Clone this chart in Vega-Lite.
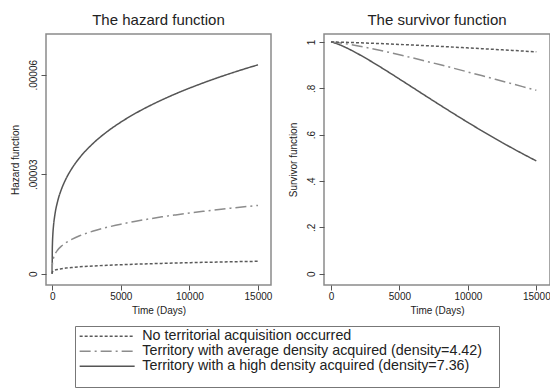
{
  "$schema": "https://vega.github.io/schema/vega-lite/v6.json",
  "padding": {"left": 9, "top": 12, "right": 0, "bottom": 0},
  "config": {
    "font": "Liberation Sans",
    "view": {"stroke": "#8a8a8a", "strokeWidth": 1.5},
    "axis": {"domain": false, "grid": false, "tickColor": "#555", "tickSize": 5, "tickWidth": 1, "labelFontSize": 10, "titleFontSize": 10, "labelColor": "#222", "titleColor": "#222", "titleFontWeight": "normal"},
    "title": {"fontSize": 15, "fontWeight": "normal", "color": "#222", "frame": "group", "offset": 6},
    "concat": {"spacing": 14}
  },
  "datasets": {
    "haz": [
      {"t":0,"g":"high","v":0},{"t":10,"g":"high","v":0.745e-5},{"t":20,"g":"high","v":0.912e-5},{"t":50,"g":"high","v":1.191e-5},{"t":100,"g":"high","v":1.458e-5},{"t":200,"g":"high","v":1.786e-5},{"t":400,"g":"high","v":2.187e-5},{"t":700,"g":"high","v":2.574e-5},{"t":1000,"g":"high","v":2.857e-5},{"t":1500,"g":"high","v":3.216e-5},{"t":2000,"g":"high","v":3.498e-5},{"t":3000,"g":"high","v":3.938e-5},{"t":4000,"g":"high","v":4.283e-5},{"t":5000,"g":"high","v":4.571e-5},{"t":6000,"g":"high","v":4.821e-5},{"t":7000,"g":"high","v":5.043e-5},{"t":8000,"g":"high","v":5.243e-5},{"t":9000,"g":"high","v":5.427e-5},{"t":10000,"g":"high","v":5.596e-5},{"t":11000,"g":"high","v":5.754e-5},{"t":12000,"g":"high","v":5.902e-5},{"t":13000,"g":"high","v":6.042e-5},{"t":14000,"g":"high","v":6.175e-5},{"t":15000,"g":"high","v":6.300e-5},
      {"t":0,"g":"average","v":0},{"t":10,"g":"average","v":0.243e-5},{"t":20,"g":"average","v":0.298e-5},{"t":50,"g":"average","v":0.389e-5},{"t":100,"g":"average","v":0.477e-5},{"t":200,"g":"average","v":0.584e-5},{"t":400,"g":"average","v":0.715e-5},{"t":700,"g":"average","v":0.842e-5},{"t":1000,"g":"average","v":0.934e-5},{"t":1500,"g":"average","v":1.052e-5},{"t":2000,"g":"average","v":1.144e-5},{"t":3000,"g":"average","v":1.288e-5},{"t":4000,"g":"average","v":1.400e-5},{"t":5000,"g":"average","v":1.495e-5},{"t":6000,"g":"average","v":1.576e-5},{"t":7000,"g":"average","v":1.649e-5},{"t":8000,"g":"average","v":1.715e-5},{"t":9000,"g":"average","v":1.774e-5},{"t":10000,"g":"average","v":1.830e-5},{"t":11000,"g":"average","v":1.882e-5},{"t":12000,"g":"average","v":1.930e-5},{"t":13000,"g":"average","v":1.976e-5},{"t":14000,"g":"average","v":2.019e-5},{"t":15000,"g":"average","v":2.060e-5},
      {"t":0,"g":"none","v":0},{"t":10,"g":"none","v":0.044e-5},{"t":20,"g":"none","v":0.054e-5},{"t":50,"g":"none","v":0.071e-5},{"t":100,"g":"none","v":0.087e-5},{"t":200,"g":"none","v":0.106e-5},{"t":400,"g":"none","v":0.130e-5},{"t":700,"g":"none","v":0.153e-5},{"t":1000,"g":"none","v":0.170e-5},{"t":1500,"g":"none","v":0.191e-5},{"t":2000,"g":"none","v":0.208e-5},{"t":3000,"g":"none","v":0.234e-5},{"t":4000,"g":"none","v":0.255e-5},{"t":5000,"g":"none","v":0.272e-5},{"t":6000,"g":"none","v":0.287e-5},{"t":7000,"g":"none","v":0.300e-5},{"t":8000,"g":"none","v":0.312e-5},{"t":9000,"g":"none","v":0.323e-5},{"t":10000,"g":"none","v":0.333e-5},{"t":11000,"g":"none","v":0.343e-5},{"t":12000,"g":"none","v":0.351e-5},{"t":13000,"g":"none","v":0.360e-5},{"t":14000,"g":"none","v":0.368e-5},{"t":15000,"g":"none","v":0.375e-5}
    ],
    "surv": [
      {"t":0,"g":"high","v":1},{"t":20,"g":"high","v":0.99986},{"t":50,"g":"high","v":0.99955},{"t":100,"g":"high","v":0.99889},{"t":200,"g":"high","v":0.99728},{"t":400,"g":"high","v":0.99335},{"t":700,"g":"high","v":0.98636},{"t":1000,"g":"high","v":0.97846},{"t":1500,"g":"high","v":0.96391},{"t":2000,"g":"high","v":0.94809},{"t":3000,"g":"high","v":0.91393},{"t":4000,"g":"high","v":0.87762},{"t":5000,"g":"high","v":0.84015},{"t":6000,"g":"high","v":0.80221},{"t":7000,"g":"high","v":0.76415},{"t":8000,"g":"high","v":0.72644},{"t":9000,"g":"high","v":0.68929},{"t":10000,"g":"high","v":0.65288},{"t":11000,"g":"high","v":0.61740},{"t":12000,"g":"high","v":0.58297},{"t":13000,"g":"high","v":0.54967},{"t":14000,"g":"high","v":0.51759},{"t":15000,"g":"high","v":0.48675},
      {"t":0,"g":"average","v":1},{"t":20,"g":"average","v":0.99995},{"t":50,"g":"average","v":0.99985},{"t":100,"g":"average","v":0.99964},{"t":200,"g":"average","v":0.99912},{"t":400,"g":"average","v":0.99784},{"t":700,"g":"average","v":0.99555},{"t":1000,"g":"average","v":0.99295},{"t":1500,"g":"average","v":0.98813},{"t":2000,"g":"average","v":0.98282},{"t":3000,"g":"average","v":0.97117},{"t":4000,"g":"average","v":0.95847},{"t":5000,"g":"average","v":0.94497},{"t":6000,"g":"average","v":0.93088},{"t":7000,"g":"average","v":0.91629},{"t":8000,"g":"average","v":0.90134},{"t":9000,"g":"average","v":0.88610},{"t":10000,"g":"average","v":0.87060},{"t":11000,"g":"average","v":0.85494},{"t":12000,"g":"average","v":0.83914},{"t":13000,"g":"average","v":0.82325},{"t":14000,"g":"average","v":0.80732},{"t":15000,"g":"average","v":0.79137},
      {"t":0,"g":"none","v":1},{"t":20,"g":"none","v":0.99999},{"t":50,"g":"none","v":0.99997},{"t":100,"g":"none","v":0.99993},{"t":200,"g":"none","v":0.99984},{"t":400,"g":"none","v":0.99960},{"t":700,"g":"none","v":0.99917},{"t":1000,"g":"none","v":0.99869},{"t":1500,"g":"none","v":0.99778},{"t":2000,"g":"none","v":0.99678},{"t":3000,"g":"none","v":0.99458},{"t":4000,"g":"none","v":0.99214},{"t":5000,"g":"none","v":0.98953},{"t":6000,"g":"none","v":0.98677},{"t":7000,"g":"none","v":0.98388},{"t":8000,"g":"none","v":0.98088},{"t":9000,"g":"none","v":0.97777},{"t":10000,"g":"none","v":0.97457},{"t":11000,"g":"none","v":0.97128},{"t":12000,"g":"none","v":0.96792},{"t":13000,"g":"none","v":0.96449},{"t":14000,"g":"none","v":0.96100},{"t":15000,"g":"none","v":0.95744}
    ]
  },
  "hconcat": [
    {
      "title": "The hazard function",
      "width": 225, "height": 251,
      "data": {"name": "haz"},
      "mark": {"type": "line", "strokeWidth": 1.5, "interpolate": "monotone"},
      "encoding": {
        "x": {"field": "t", "type": "quantitative", "scale": {"domain": [-450, 15950], "nice": false, "zero": false}, "axis": {"values": [0, 5000, 10000, 15000], "format": "d", "title": "Time (Days)", "labelPadding": 1, "titlePadding": 4}},
        "y": {"field": "v", "type": "quantitative", "scale": {"domain": [-0.0000034, 0.0000723], "nice": false, "zero": false}, "axis": {"values": [0, 0.00003, 0.00006], "labelAngle": -90, "labelExpr": "datum.value == 0 ? '0' : '.' + substring(format(datum.value, '.5f'), 2)", "title": "Hazard function", "labelPadding": 3, "titlePadding": 8}},
        "strokeDash": {"field": "g", "type": "nominal", "scale": {"domain": ["none", "average", "high"], "range": [[3, 2], [11, 4, 2, 4], [1, 0]]},
          "legend": {"orient": "none", "legendX": 29, "legendY": 292, "direction": "vertical", "title": " ", "titleOrient": "right", "titlePadding": 14, "titleFontSize": 66, "labelFontSize": 14.3, "labelLimit": 500, "labelColor": "#222", "labelExpr": "datum.label == 'none' ? 'No territorial acquisition occurred' : datum.label == 'average' ? 'Territory with average density acquired (density=4.42)' : 'Territory with a high density acquired (density=7.36)'", "symbolType": "M-1,0H9", "symbolSize": 121, "symbolStrokeWidth": 1.5, "labelOffset": 50, "padding": 3, "strokeColor": "#777", "fillColor": "white", "rowPadding": -1}},
        "color": {"field": "g", "type": "nominal", "scale": {"domain": ["none", "average", "high"], "range": ["#5a5a5a", "#8c8c8c", "#555555"]},
          "legend": {"orient": "none", "legendX": 29, "legendY": 292, "direction": "vertical", "title": " ", "titleOrient": "right", "titlePadding": 14, "titleFontSize": 66, "labelFontSize": 14.3, "labelLimit": 500, "labelColor": "#222", "labelExpr": "datum.label == 'none' ? 'No territorial acquisition occurred' : datum.label == 'average' ? 'Territory with average density acquired (density=4.42)' : 'Territory with a high density acquired (density=7.36)'", "symbolType": "M-1,0H9", "symbolSize": 121, "symbolStrokeWidth": 1.5, "labelOffset": 50, "padding": 3, "strokeColor": "#777", "fillColor": "white", "rowPadding": -1}}
      }
    },
    {
      "title": "The survivor function",
      "width": 226, "height": 251,
      "data": {"name": "surv"},
      "mark": {"type": "line", "strokeWidth": 1.5, "interpolate": "monotone"},
      "encoding": {
        "x": {"field": "t", "type": "quantitative", "scale": {"domain": [-510, 16000], "nice": false, "zero": false}, "axis": {"values": [0, 5000, 10000, 15000], "format": "d", "title": "Time (Days)", "labelPadding": 1, "titlePadding": 4}},
        "y": {"field": "v", "type": "quantitative", "scale": {"domain": [-0.049, 1.0345], "nice": false, "zero": false}, "axis": {"values": [0, 0.2, 0.4, 0.6, 0.8, 1], "labelAngle": -90, "labelExpr": "datum.value == 0 ? '0' : datum.value == 1 ? '1' : '.' + substring(format(datum.value, '.1f'), 2)", "title": "Survivor function", "labelPadding": 3, "titlePadding": 8}},
        "strokeDash": {"field": "g", "type": "nominal", "scale": {"domain": ["none", "average", "high"], "range": [[3, 2], [11, 4, 2, 4], [1, 0]]}},
        "color": {"field": "g", "type": "nominal", "scale": {"domain": ["none", "average", "high"], "range": ["#5a5a5a", "#8c8c8c", "#555555"]}}
      }
    }
  ]
}
